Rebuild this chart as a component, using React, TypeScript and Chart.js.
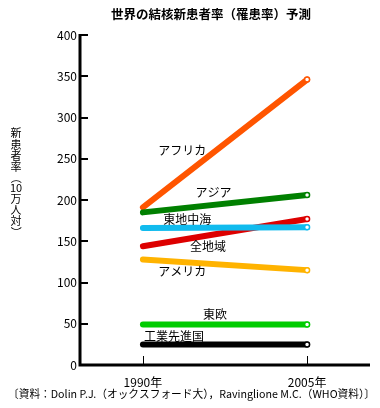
import React, { useEffect, useRef } from "react";
import { Chart, registerables } from "chart.js";

Chart.register(...registerables);

const years = [1990, 2005];
const yearLabels = ["1990年", "2005年"];
const yTicks = [0, 50, 100, 150, 200, 250, 300, 350, 400];

const seriesNames = ["アフリカ", "アジア", "東地中海", "全地域", "アメリカ", "東欧", "工業先進国"];
const africa = [191, 346];
const asia = [185, 206];
const eastMed = [166, 167];
const allRegions = [144, 177];
const americas = [128, 115];
const eastEurope = [49, 49];
const industrialized = [25, 25];
const seriesValues = [africa, asia, eastMed, allRegions, americas, eastEurope, industrialized];
const seriesColors = ["#FF5500", "#008000", "#11BBEE", "#DD0000", "#FFB300", "#00CC00", "#000000"];

// label anchors (left x in years, centre y in values)
const labelYears = [1991.4, 1994.8, 1991.85, 1994.3, 1991.4, 1995.5, 1990.1];
const labelValues = [260, 209, 176, 143.5, 113, 61, 35];

const title = "世界の結核新患者率（罹患率）予測";
const yTitleChars = ["新", "患", "者", "率", "（", "10", "万", "人", "対", "）"];
const source = "〔資料：Dolin P.J.（オックスフォード大），Ravinglione M.C.（WHO資料）〕";

const FONT = '"Noto Sans CJK JP", "Noto Sans", sans-serif';

const drawPlugin = {
  id: "customDraw",
  afterDatasetsDraw(chart: any) {
    const ctx = chart.ctx;
    const xs = chart.scales.x;
    const ys = chart.scales.y;
    ctx.save();
    ctx.fillStyle = "#000";
    ctx.font = `12px ${FONT}`;
    ctx.textAlign = "left";
    ctx.textBaseline = "middle";
    seriesNames.forEach((n, i) => {
      ctx.fillText(n, xs.getPixelForValue(labelYears[i]), ys.getPixelForValue(labelValues[i]));
    });
    ctx.restore();
  },
  afterDraw(chart: any) {
    const ctx = chart.ctx;
    const xs = chart.scales.x;
    const ys = chart.scales.y;
    const area = chart.chartArea;
    ctx.save();
    ctx.strokeStyle = "#000";
    ctx.fillStyle = "#000";
    ctx.lineWidth = 3;
    ctx.beginPath();
    ctx.moveTo(area.left, area.top - 1);
    ctx.lineTo(area.left, area.bottom);
    ctx.lineTo(area.right, area.bottom);
    ctx.stroke();
    ctx.lineWidth = 2;
    yTicks.forEach((v) => {
      const y = Math.round(ys.getPixelForValue(v));
      ctx.beginPath();
      ctx.moveTo(area.left, y);
      ctx.lineTo(area.left + 8, y);
      ctx.stroke();
    });
    years.forEach((yr) => {
      const x = Math.round(xs.getPixelForValue(yr)) + 0.5;
      ctx.lineWidth = 1;
      ctx.beginPath();
      ctx.moveTo(x, area.bottom);
      ctx.lineTo(x, area.bottom - 9);
      ctx.stroke();
    });
    ctx.font = `12px ${FONT}`;
    ctx.textAlign = "right";
    ctx.textBaseline = "middle";
    yTicks.forEach((v) => {
      ctx.fillText(String(v), area.left - 3, ys.getPixelForValue(v));
    });
    ctx.textAlign = "center";
    years.forEach((yr, i) => {
      ctx.fillText(yearLabels[i], xs.getPixelForValue(yr), area.bottom + 17);
    });
    ctx.font = `bold 12.5px ${FONT}`;
    ctx.fillText(title, 211, 14);
    // stacked vertical y title
    ctx.font = `11px ${FONT}`;
    const centers = [133, 145, 156, 167, 178, 188, 199, 210, 221, 232];
    yTitleChars.forEach((c, i) => {
      if (c === "（" || c === "）") {
        ctx.save();
        ctx.translate(16, centers[i]);
        ctx.rotate(Math.PI / 2);
        ctx.fillText(c, 0, 0);
        ctx.restore();
      } else {
        ctx.fillText(c, 16, centers[i]);
      }
    });
    ctx.font = `11px ${FONT}`;
    ctx.textAlign = "left";
    ctx.fillText(source, 8, 394, 367);
    ctx.restore();
  },
};

export default function App() {
  const ref = useRef<HTMLCanvasElement>(null);
  useEffect(() => {
    if (!ref.current) return;
    const datasets = seriesNames.map((n, i) => ({
      label: n,
      data: years.map((yr, j) => ({ x: yr, y: seriesValues[i][j] })),
      borderColor: seriesColors[i],
      backgroundColor: seriesColors[i],
      borderWidth: 6,
      borderCapStyle: "round" as const,
      pointRadius: [0, 2.5],
      pointBackgroundColor: "#ffffff",
      pointBorderColor: seriesColors[i],
      pointBorderWidth: 1.5,
      tension: 0,
    }));
    const order = [6, 5, 4, 2, 3, 1, 0];
    const chart = new Chart(ref.current, {
      type: "line",
      data: { datasets: order.map((k) => datasets[k]) },
      options: {
        responsive: false,
        animation: false,
        layout: { padding: { left: 80, right: 10, top: 35, bottom: 43 } },
        plugins: { legend: { display: false }, tooltip: { enabled: false }, title: { display: false } },
        scales: {
          x: { type: "linear", min: 1984.25, max: 2010.75, display: false },
          y: { type: "linear", min: 0, max: 400, display: false },
        },
      },
      plugins: [drawPlugin],
    });
    return () => chart.destroy();
  }, []);
  return (
    <div style={{ position: "fixed", left: 0, top: 0, width: 380, height: 408, background: "#fff" }}>
      <canvas ref={ref} width={380} height={408} />
    </div>
  );
}
